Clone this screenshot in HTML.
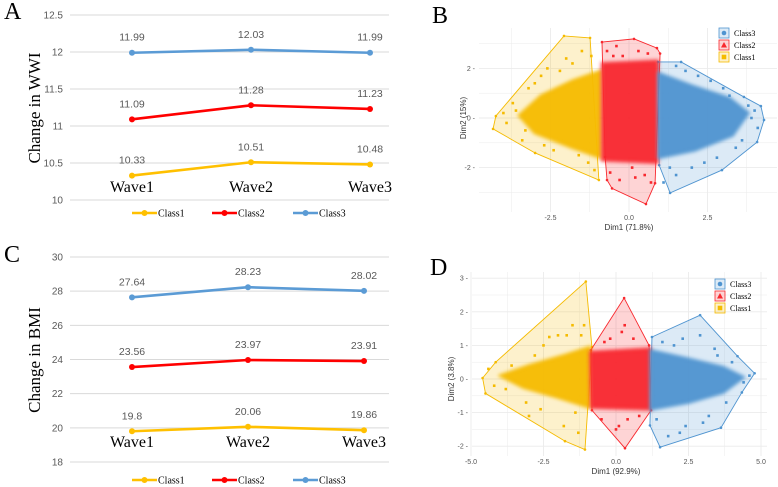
<!DOCTYPE html>
<html><head><meta charset="utf-8">
<style>
html,body{margin:0;padding:0;background:#fff;}
svg{display:block;}
text{font-family:"Liberation Sans",sans-serif;}
.serif{font-family:"Liberation Serif",serif;}
</style></head>
<body>
<svg id="fig" width="778" height="487" viewBox="0 0 778 487" xmlns="http://www.w3.org/2000/svg">
<defs><filter id="soft" x="-20%" y="-20%" width="140%" height="140%"><feGaussianBlur stdDeviation="1.6"/></filter></defs>
</svg>
<script>
// ---------- Line chart data ----------
const waves = ["Wave1","Wave2","Wave3"];
const classNames = ["Class1","Class2","Class3"];
const wwiClass1 = [10.33,10.51,10.48];
const wwiClass2 = [11.09,11.28,11.23];
const wwiClass3 = [11.99,12.03,11.99];
const wwiTicks = [10,10.5,11,11.5,12,12.5];
const bmiClass1 = [19.8,20.06,19.86];
const bmiClass2 = [23.56,23.97,23.91];
const bmiClass3 = [27.64,28.23,28.02];
const bmiTicks = [18,20,22,24,26,28,30];

// ---------- PCA hull data (B) ----------
const bHull1 = [[-4.33,-0.44],[-4.24,0.08],[-2.07,3.31],[-1.24,3.23],[-0.96,-2.5],[-2.99,-1.41]];
const bHull2 = [[-0.86,3.06],[0.16,3.19],[0.89,2.82],[0.99,2.6],[0.83,-2.63],[0.54,-3.47],[-0.54,-2.84],[-0.70,-2.5],[-0.76,-1.57]];
const bHull3 = [[0.92,2.26],[1.66,2.26],[3.66,0.85],[4.2,0.48],[4.3,-0.08],[4.08,-0.97],[2.96,-2.1],[1.31,-3.02],[0.96,-1.9]];
const bCore1 = [[-3.5,0.1],[-2.8,0.9],[-1.8,1.5],[-0.9,1.9],[-0.9,-1.6],[-1.8,-1.2],[-3.0,-0.6]];
const bCore2 = [[-0.85,2.2],[0.9,2.3],[0.9,-1.8],[-0.85,-1.7]];
const bCore3 = [[0.95,1.8],[2.0,1.3],[3.2,0.8],[3.8,0.2],[3.3,-0.7],[2.1,-1.3],[0.95,-1.6]];
const bPts1 = [[-3.9,-0.2],[-3.7,0.6],[-3.2,1.2],[-2.6,2.0],[-2.0,2.4],[-1.5,2.7],[-2.4,-1.3],[-1.6,-1.5],[-1.1,-2.1],[-3.4,-0.9],[-2.8,1.7],[-1.2,2.5],[-3.6,0.3],[-3.3,-0.5],[-2.2,1.9],[-1.8,2.2],[-2.7,-1.1],[-1.3,-1.8],[-4.0,0.2],[-3.0,1.4]];
const bPts2 = [[-0.4,2.9],[0.3,2.7],[-0.6,-2.2],[0.5,-2.3],[0.1,-2.0],[-0.2,2.5],[0.7,-2.6],[-0.5,2.5],[0.6,2.6],[-0.3,-2.5],[0.2,-2.4],[-0.7,2.7]];
const bPts3 = [[1.5,2.1],[2.2,1.7],[3.0,1.2],[3.8,0.5],[4.1,-0.4],[3.6,-0.9],[2.8,-1.6],[2.0,-2.0],[1.5,-2.3],[1.1,-2.6],[2.4,-1.8],[3.2,0.9],[3.9,0.0],[2.6,1.5],[1.8,1.9],[3.4,-1.2],[1.3,-2.0],[4.0,0.3]];

// ---------- PCA hull data (D) ----------
const dHull1 = [[-4.6,0.03],[-4.15,0.5],[-1.04,2.9],[-0.83,0.95],[-1.07,-2.1],[-1.76,-1.85],[-4.5,-0.43]];
const dHull2 = [[0.28,2.41],[1.14,1.0],[1.21,-0.93],[0.31,-2.06],[-0.83,-0.93],[-0.87,0.86]];
const dHull3 = [[1.24,1.25],[2.9,1.9],[4.19,0.68],[4.78,0.17],[4.34,-0.4],[3.62,-1.45],[1.52,-2.03],[1.17,-1.38]];
const dCore1 = [[-4.0,0.1],[-3.0,0.4],[-1.8,0.7],[-0.9,0.95],[-0.9,-0.85],[-2.0,-0.55],[-3.2,-0.25]];
const dCore2 = [[-0.88,0.8],[1.18,0.9],[1.18,-0.9],[-0.85,-0.85]];
const dCore3 = [[1.2,0.85],[2.5,0.6],[3.7,0.35],[4.4,0.05],[3.7,-0.4],[2.5,-0.7],[1.2,-0.9]];
const dPts1 = [[-4.4,0.3],[-4.2,-0.2],[-3.6,0.4],[-3.1,-0.7],[-2.5,1.0],[-2.0,1.3],[-1.5,1.6],[-1.8,-1.4],[-1.3,-1.6],[-2.6,-0.9],[-1.2,1.3],[-3.0,-1.1],[-2.3,1.25],[-1.7,1.3],[-1.4,-1.0],[-3.8,-0.3],[-2.8,0.7],[-1.1,1.6]];
const dPts2 = [[0.2,1.4],[0.6,1.2],[-0.4,1.1],[0.1,-1.4],[0.4,-1.2],[-0.5,-1.2],[0.8,-1.1],[0.3,1.6],[-0.2,1.2],[0.0,-1.5]];
const dPts3 = [[1.6,1.1],[2.3,1.2],[2.9,1.3],[3.4,0.9],[4.0,0.5],[4.4,-0.1],[3.8,-0.7],[3.2,-1.1],[2.4,-1.4],[1.8,-1.7],[1.4,-1.2],[4.6,0.1],[2.0,1.0],[3.0,-1.3],[2.2,-1.6],[3.5,0.7]];

const NS="http://www.w3.org/2000/svg";
const svg=document.getElementById('fig');
const Y="#FFC000", R="#FF0000", B="#5B9BD5";
const PY="#F5BB00", PR="#F8282E", PB="#4F94D0";
function mk(tag,attrs,parent,txt){const e=document.createElementNS(NS,tag);for(const k in attrs)e.setAttribute(k,attrs[k]);if(txt!==undefined)e.textContent=txt;(parent||svg).appendChild(e);return e;}

// ---------- Line charts ----------
function lineChart(cfg){
  const g=mk('g',{});
  
  
  const yS=v=>cfg.y0+(v-cfg.ticks[0])/(cfg.ticks[cfg.ticks.length-1]-cfg.ticks[0])*(cfg.y1-cfg.y0);
  const xS=i=>cfg.xs[0]+i*(cfg.xs[1]-cfg.xs[0]);
  const pl=mk('text',{x:4,y:cfg.letterY,'font-size':24,class:'serif',fill:'#000'},g,cfg.letter);
  
  cfg.ticks.forEach(t=>{
    const gl=mk('line',{x1:70,x2:389,y1:yS(t),y2:yS(t),stroke:'#d9d9d9','stroke-width':1},g);
    
    const tl=mk('text',{x:63,y:yS(t)+3.5,'font-size':10,'text-anchor':'end',fill:'#595959'},g,String(t));
    
  });
  const yt=mk('text',{x:0,y:0,'font-size':17,class:'serif',fill:'#000','text-anchor':'middle',transform:`translate(40,${cfg.titleY}) rotate(-90)`},g,cfg.title);
  
  waves.forEach((w,i)=>{
    const wl=mk('text',{x:xS(i),y:cfg.waveY,'font-size':16,class:'serif','text-anchor':'middle',fill:'#000'},g,w);
    
  });
  const cols=[Y,R,B];
  cfg.series.forEach((s,si)=>{
    const pts=s.map((v,i)=>xS(i)+','+yS(v)).join(' ');
    const l=mk('polyline',{points:pts,fill:'none',stroke:cols[si],'stroke-width':2.6},g);
    
    s.forEach((v,i)=>{
      const c=mk('circle',{cx:xS(i),cy:yS(v),r:3,fill:cols[si]},g);
      
      const lb=mk('text',{x:xS(i),y:yS(v)-12,'font-size':10.5,'text-anchor':'middle',fill:'#595959'},g,String(v));
      
    });
  });
  const lx=[[132,157],[212,237],[293,318]];
  classNames.forEach((n,i)=>{
    const lg=mk('g',{},g);
    
    mk('line',{x1:lx[i][0],x2:lx[i][1],y1:cfg.legY,y2:cfg.legY,stroke:cols[i],'stroke-width':2.6},lg);
    mk('circle',{cx:(lx[i][0]+lx[i][1])/2,cy:cfg.legY,r:3,fill:cols[i]},lg);
    mk('text',{x:lx[i][1]+1,y:cfg.legY+3.5,'font-size':10,class:'serif',fill:'#000'},lg,n);
  });
}
lineChart({name:'wwi-chart',letter:'A',letterY:19,ticks:wwiTicks,y0:200,y1:15,xs:[132,251],title:'Change in WWI',titleY:108,waveY:192,legY:213,series:[wwiClass1,wwiClass2,wwiClass3]});
lineChart({name:'bmi-chart',letter:'C',letterY:262,ticks:bmiTicks,y0:462,y1:257,xs:[132,248],title:'Change in BMI',titleY:360,waveY:447,legY:480,series:[bmiClass1,bmiClass2,bmiClass3]});

// ---------- PCA plots ----------
function pca(cfg){
  const g=mk('g',{});
  
  
  const xS=v=>cfg.x0px+v*cfg.xu, yS=v=>cfg.y0px-v*cfg.yu;
  const pl=mk('text',{x:cfg.letterX,y:cfg.letterY,'font-size':24,class:'serif',fill:'#000'},g,cfg.letter);
  
  cfg.xgrid.forEach(v=>{const l=mk('line',{x1:xS(v),x2:xS(v),y1:cfg.top,y2:cfg.bot,stroke:'#ebebeb','stroke-width':cfg.xt.includes(v)?0.9:0.5},g);});
  cfg.ygrid.forEach(v=>{const l=mk('line',{x1:cfg.left,x2:cfg.right,y1:yS(v),y2:yS(v),stroke:'#ebebeb','stroke-width':cfg.yt.includes(v)?0.9:0.5},g);});
  cfg.xt.forEach(v=>{const t=mk('text',{x:xS(v),y:cfg.bot+8,'font-size':7,'text-anchor':'middle',fill:'#555'},g,v.toFixed(1));});
  cfg.yt.forEach(v=>{const t=mk('text',{x:cfg.left-4,y:yS(v)+2.5,'font-size':7,'text-anchor':'end',fill:'#555'},g,String(v)+' -');});
  const xt=mk('text',{x:(xS(0)),y:cfg.bot+18,'font-size':8,'text-anchor':'middle',fill:'#333'},g,cfg.xlab);
  
  const yt=mk('text',{x:0,y:0,'font-size':8,'text-anchor':'middle',fill:'#333',transform:`translate(${cfg.ylabX},${yS(0)}) rotate(-90)`},g,cfg.ylab);
  
  const cols=[PY,PR,PB];
  const P=a=>a.map(p=>xS(p[0])+','+yS(p[1])).join(' ');
  cfg.hulls.forEach((h,i)=>{
    const hp=mk('polygon',{points:P(h),fill:cols[i],'fill-opacity':0.2,stroke:cols[i],'stroke-width':0.9},g);
    
    h.forEach(p=>mk('circle',{cx:xS(p[0]),cy:yS(p[1]),r:1.3,fill:cols[i]},g));
  });
  cfg.cores.forEach((c,i)=>{
    const cp=mk('polygon',{points:P(c),fill:cols[i],'fill-opacity':0.95,stroke:cols[i],'stroke-width':4,'stroke-linejoin':'round','stroke-opacity':0.6,filter:'url(#soft)'},g);
    
  });
  cfg.pts.forEach((arr,i)=>arr.forEach(p=>{
    const c=mk('rect',{x:xS(p[0])-1.3,y:yS(p[1])-1.3,width:2.6,height:2.6,fill:cols[i]},g);
    
  }));
  const lg=mk('g',{},g);
  
  const names=["Class3","Class2","Class1"], lc=[PB,PR,PY];
  names.forEach((n,i)=>{
    const e=mk('g',{},lg);
    
    const yy=cfg.legY+i*12;
    mk('rect',{x:cfg.legX,y:yy,width:10,height:10,fill:lc[i],'fill-opacity':0.2,stroke:lc[i],'stroke-width':0.8},e);
    if(i===0) mk('circle',{cx:cfg.legX+5,cy:yy+5,r:2.3,fill:lc[i]},e);
    else if(i===1) mk('polygon',{points:`${cfg.legX+5},${yy+2} ${cfg.legX+8},${yy+7.5} ${cfg.legX+2},${yy+7.5}`,fill:lc[i]},e);
    else mk('rect',{x:cfg.legX+2.7,y:yy+2.7,width:4.6,height:4.6,fill:lc[i]},e);
    mk('text',{x:cfg.legX+15,y:yy+7.8,'font-size':8,class:'serif',fill:'#000'},e,n);
  });
}
pca({name:'pca-wwi',letter:'B',letterX:432,letterY:23,x0px:629,xu:31.4,y0px:118,yu:24.8,
  left:479,right:777,top:28,bot:212,xgrid:[-3.75,-2.5,-1.25,0,1.25,2.5,3.75],xt:[-2.5,0,2.5],ygrid:[3,2,1,0,-1,-2,-3],yt:[2,0,-2],
  xlab:'Dim1 (71.8%)',ylab:'Dim2 (15%)',ylabX:466,hulls:[bHull1,bHull2,bHull3],cores:[bCore1,bCore2,bCore3],pts:[bPts1,bPts2,bPts3],legX:719,legY:28});
pca({name:'pca-bmi',letter:'D',letterX:430,letterY:275,x0px:616,xu:29,y0px:379,yu:33.6,
  left:472,right:767,top:272,bot:456,xgrid:[-5,-3.75,-2.5,-1.25,0,1.25,2.5,3.75,5],xt:[-5,-2.5,0,2.5,5],ygrid:[3,2.5,2,1.5,1,0.5,0,-0.5,-1,-1.5,-2],yt:[3,2,1,0,-1,-2],
  xlab:'Dim1 (92.9%)',ylab:'Dim2 (3.8%)',ylabX:454,hulls:[dHull1,dHull2,dHull3],cores:[dCore1,dCore2,dCore3],pts:[dPts1,dPts2,dPts3],legX:715,legY:279});
</script>
</body></html>
